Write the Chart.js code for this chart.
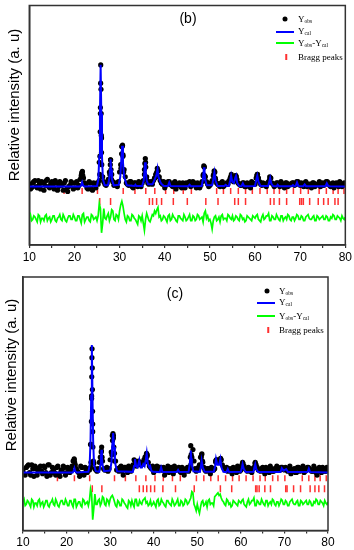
<!DOCTYPE html>
<html><head><meta charset="utf-8">
<script src="https://cdn.jsdelivr.net/npm/chart.js@4.4.1/dist/chart.umd.min.js"></script>
<style>
html,body{margin:0;padding:0;background:#fff;width:354px;height:550px;overflow:hidden;position:relative;font-family:"Liberation Sans",Arial,sans-serif}
.cv{position:absolute;left:0}
.yt{position:absolute;font-size:15px;color:#000;white-space:nowrap;transform:translate(-50%,-50%) rotate(-90deg)}
.pl{position:absolute;font-size:14px;color:#000;transform:translate(-50%,-50%)}
.lg{position:absolute;font-family:"Liberation Serif","Times New Roman",serif;font-size:9px;color:#000;white-space:nowrap;transform:translateY(-50%)}
.lg sub{font-size:5.5px;vertical-align:-1px}
.dot{position:absolute;width:5px;height:5px;border-radius:50%;background:#000;transform:translate(-50%,-50%)}
.ln{position:absolute;height:2px;transform:translateY(-50%)}
.tk{position:absolute;width:1.5px;height:6px;background:#ff3030;transform:translate(-50%,-50%)}
</style></head>
<body>
<div class="cv" style="top:0;width:354px;height:270px"><canvas id="c1" width="354" height="270"></canvas></div>
<div class="cv" style="top:270px;width:354px;height:280px"><canvas id="c2" width="354" height="280"></canvas></div>

<div class="yt" style="left:13px;top:105px">Relative intensity (a. u)</div>
<div class="yt" style="left:10px;top:375px">Relative intensity (a. u)</div>
<div class="pl" style="left:188px;top:18px">(b)</div>
<div class="pl" style="left:175px;top:293px">(c)</div>

<div class="dot" style="left:285px;top:19px"></div>
<div class="lg" style="left:298px;top:19px">Y<sub>obs</sub></div>
<div class="ln" style="left:276px;width:18px;top:32px;background:#0000ff"></div>
<div class="lg" style="left:298px;top:31px">Y<sub>cal</sub></div>
<div class="ln" style="left:276px;width:18px;top:43px;background:#00ff00"></div>
<div class="lg" style="left:298px;top:43px">Y<sub>obs</sub>-Y<sub>cal</sub></div>
<div class="tk" style="left:286px;top:57px"></div>
<div class="lg" style="left:298px;top:57px">Bragg peaks</div>

<div class="dot" style="left:267px;top:291px"></div>
<div class="lg" style="left:279px;top:291px">Y<sub>obs</sub></div>
<div class="ln" style="left:257px;width:18px;top:303px;background:#0000ff"></div>
<div class="lg" style="left:279px;top:302px">Y<sub>cal</sub></div>
<div class="ln" style="left:257px;width:18px;top:316px;background:#00ff00"></div>
<div class="lg" style="left:279px;top:316px">Y<sub>obs</sub>-Y<sub>cal</sub></div>
<div class="tk" style="left:268px;top:330px"></div>
<div class="lg" style="left:279px;top:330px">Bragg peaks</div>

<script>
// ---------- shared grid (2θ, degrees): values at 10, 10.5 ... 80 and half-steps 10.25 ... 79.75 ----------
const xStart = 10, xStep = 0.5;
const xTicks = [10, 20, 30, 40, 50, 60, 70, 80];

// ---------- panel (b) ----------
const ycalB = [10,0, 21.2,0, 21.5,1, 21.7,3.5, 21.9,1, 22.2,0,
  25.0,0.5, 25.3,6, 25.5,25, 25.65,60, 25.8,100, 25.95,60, 26.1,25, 26.3,6, 26.7,1,
  27.4,1, 27.7,6, 27.88,14, 28.0,22.5, 28.12,14, 28.3,6, 28.7,1,
  29.8,1.5, 30.15,8, 30.35,20, 30.55,33.5, 30.75,20, 31.0,8, 31.6,1,
  33.3,0.5, 33.5,1.5, 33.7,0.5,
  35.0,0.5, 35.35,5, 35.5,12, 35.65,20, 35.8,12, 36.0,5, 36.3,2, 37.3,2, 37.8,6, 38.2,10, 38.4,14.4, 38.6,8, 39.0,4, 39.3,2, 39.8,0.5,
  40.7,0.5, 41.0,3.5, 41.3,0.5,
  45.2,0.3, 45.5,1.5, 45.8,0.3,
  48.2,0.5, 48.45,6, 48.58,11, 48.7,15.8, 48.82,11, 48.95,6, 49.3,1, 50.5,1, 50.75,6, 51.0,11.7, 51.25,5, 51.7,0.5,
  53.2,0.5, 53.5,1.5, 53.8,0.5,
  54.2,0.5, 54.5,5, 54.7,9, 54.95,4, 55.3,3, 55.6,7, 55.8,9, 56.05,3, 56.5,0.5,
  57.0,0.3, 57.3,2.7, 57.6,0.3,
  60.0,0.5, 60.3,6, 60.5,9, 60.75,4, 61.2,0.5,
  62.9,0.5, 63.15,4, 63.35,7, 63.6,2.5, 64.0,0.5,
  64.8,0.3, 65.0,1.5, 65.3,0.3,
  68.1,0.3, 68.4,1.2, 68.7,0.3, 69.0,0.5, 69.3,3.5, 69.6,0.5,
  70.7,0.3, 71.0,1.8, 71.3,0.3,
  75.6,0.3, 75.9,2.7, 76.2,0.5, 76.6,0.3, 80,0];
const obsB = [2,-1,4,0,5,-2,3,1,6,-1,
  4,-2,3,0,2,-3,5,-4,1,3,
  -1,4,1,9,7,2,-2,3,-3,1,
  3,20,40,4,1,6,22,4,2,0,
  12,33,14,3,1,4,-1,3,0,2,
  3,14,8,2,3,5,10,13,5,2,
  -1,3,4,1,3,-2,2,0,3,-1,
  2,4,1,3,-1,2,1,9,8,2,
  1,5,12,3,1,3,0,2,2,7,
  5,7,6,2,1,3,0,2,-1,3,
  2,10,4,1,2,0,4,7,2,1,
  3,0,2,-1,3,1,2,3,2,4,
  1,2,3,0,2,-1,3,1,2,0,
  3,2,4,1,2,-1,3,0,2,1,
  2];
const obsBhalf = [-2,3,5,-1,2,4,-3,5,0,3,
  1,5,-3,4,1,3,-2,0,4,-2,
  3,-1,6,12,3,-1,4,-2,3,-1,
  2,60,8,2,3,12,10,1,3,4,
  18,26,8,2,4,0,3,1,4,0,
  5,20,3,4,2,7,12,8,3,4,
  1,4,2,0,4,1,3,-1,2,3,
  3,0,4,1,3,-1,4,16,4,0,
  3,9,6,2,0,4,1,3,5,8,
  4,9,3,1,3,0,3,1,4,2,
  7,7,2,3,1,3,6,3,0,3,
  2,4,1,3,0,2,3,1,4,2,
  3,0,4,2,1,3,0,2,4,1,
  1,4,3,0,3,2,1,4,0,3];
const obsPeakB = [25.5,5, 25.6,10, 25.65,25, 25.7,45, 25.75,65, 25.8,85, 25.82,100, 25.88,80, 25.92,60, 25.95,42, 26.0,28, 26.05,18, 26.15,8,
  27.85,10, 27.95,18, 28.0,22, 28.1,14, 28.2,6,
  30.3,15, 30.45,27, 30.55,33, 30.65,34, 30.75,25, 30.9,12,
  35.5,10, 35.6,19, 35.7,23, 35.8,16, 35.95,6,
  37.8,7, 38.2,11, 38.35,15, 38.5,13, 38.7,8,
  48.55,10, 48.65,17, 48.75,16, 48.85,9,
  50.85,10, 50.95,13, 51.1,12, 51.2,7,
  54.6,8, 54.75,10, 55.7,9, 55.85,8,
  60.4,9, 60.55,10, 60.7,7, 63.25,8, 63.4,7,
  21.6,11, 21.75,12.5, 21.85,9];
const diffB = [-25,-28,-24,-27,-23,-29,-26,-24,-28,-25,
  -27,-24,-29,-25,-27,-23,-28,-26,-24,-27,
  -25,-28,-24,-30,-22,-27,-25,-29,-24,-26,
  -28,-14,-38,-18,-27,-22,-25,-20,-28,-24,
  -20,-12,-22,-29,-25,-28,-24,-27,-31,-25,
  -24,-36,-22,-28,-26,-24,-22,-17,-24,-27,
  -25,-29,-23,-27,-25,-28,-24,-26,-28,-25,
  -27,-23,-28,-25,-27,-24,-26,-29,-20,-24,
  -27,-35,-25,-28,-25,-24,-27,-26,-23,-26,
  -24,-27,-25,-28,-24,-26,-28,-25,-27,-24,
  -26,-23,-28,-25,-27,-24,-22,-28,-25,-27,
  -25,-28,-24,-26,-27,-24,-28,-25,-26,-24,
  -27,-25,-28,-24,-26,-27,-24,-28,-25,-26,
  -24,-27,-25,-28,-26,-24,-27,-25,-28,-26,
  -25];
const diffBhalf = [-23,-27,-25,-29,-24,-26,-28,-23,-26,-29,
  -24,-28,-26,-23,-28,-25,-29,-24,-27,-23,
  -28,-24,-27,-23,-29,-25,-28,-23,-27,-25,
  -24,-18,-30,-26,-24,-28,-19,-27,-23,-27,
  -15,-16,-27,-24,-28,-23,-26,-29,-24,-28,
  -30,-27,-25,-29,-23,-20,-19,-25,-28,-24,
  -27,-24,-28,-23,-26,-29,-24,-27,-23,-28,
  -25,-28,-24,-28,-23,-27,-25,-22,-26,-28,
  -30,-28,-24,-27,-29,-23,-26,-28,-24,-27,
  -28,-24,-27,-23,-27,-29,-24,-26,-28,-25,
  -24,-27,-29,-23,-26,-24,-28,-24,-27,-23,
  -27,-24,-28,-25,-23,-27,-25,-28,-23,-27,
  -24,-28,-25,-23,-27,-25,-28,-24,-27,-25,
  -27,-24,-28,-25,-23,-27,-24,-26,-24,-27];
const braggB1 = [17.7,21.7,25.1,30.8,33.4,35.8,37.8,40.2,42.0,44.1,45.9,51.5,53.0,54.6,56.3,57.9,59.4,61.1,62.7,64.2,65.4,67.0,68.5,70.1,71.8,74.2,75.8,77.3,78.4,79.7];
const braggB2 = [25.6,28.0,36.6,37.3,38.2,39.3,41.9,45.0,49.1,51.8,55.5,56.3,57.9,63.4,64.2,65.4,67.0,69.9,70.3,70.7,72.1,74.0,75.2,76.2,77.7,78.4];

// ---------- panel (c) ----------
const ycalC = [10,0, 21.4,0, 21.6,1, 21.8,3.4, 22.0,1, 22.3,0,
  25.0,0.5, 25.3,6, 25.5,25, 25.65,60, 25.8,100, 25.95,60, 26.1,25, 26.3,6, 26.7,1,
  27.5,0.5, 27.75,6, 27.88,11, 28.0,17.8, 28.12,11, 28.25,6, 28.6,1,
  30.0,1.5, 30.3,8, 30.5,22, 30.7,31, 30.9,20, 31.1,8, 31.6,1,
  35.2,0.5, 35.5,5, 35.7,10.6, 35.95,5, 36.3,4, 36.7,9.8, 37.0,4, 37.3,4, 37.6,6.6, 37.9,5, 38.2,10, 38.4,15, 38.65,7, 39.0,4, 39.2,5, 39.5,1, 39.9,0.5,
  41.4,0.3, 41.7,4, 42.0,0.3,
  45.3,0.3, 45.6,2, 45.9,0.3,
  48.0,0.5, 48.25,6, 48.38,11, 48.5,17.2, 48.62,11, 48.75,6, 49.1,1,
  50.6,0.5, 50.85,5, 51.0,9.3, 51.25,4, 51.7,0.5,
  53.8,0.5, 54.1,5, 54.3,10.6, 54.6,6, 55.0,6, 55.3,10.6, 55.55,4, 56.0,0.5,
  56.7,0.3, 57.0,2.7, 57.3,0.3,
  60.0,0.5, 60.25,4, 60.4,6.6, 60.65,3, 61.1,0.3,
  62.9,0.5, 63.1,4, 63.3,6.6, 63.55,2.5, 64.0,0.3,
  69.1,0.3, 69.4,3.4, 69.8,1.5, 70.4,2.7, 70.8,0.3,
  75.3,0.3, 75.6,3, 75.9,0.3, 80,0];
const obsC = [2,-2,5,0,6,-3,3,1,5,-1,
  4,-3,6,0,2,-2,5,-3,1,4,
  0,3,2,9,6,1,-3,4,-2,2,
  3,22,38,3,1,8,17,3,2,1,
  10,29,15,2,1,5,-2,4,0,3,
  3,10,5,9,6,8,12,14,5,3,
  0,4,3,4,2,-2,3,0,4,-1,
  2,3,1,4,-2,2,1,6,18,3,
  2,6,14,4,1,3,-1,2,3,10,
  8,10,4,2,1,3,-1,2,0,4,
  2,7,3,1,3,0,4,6,2,1,
  4,-1,3,0,3,1,2,4,2,4,
  2,3,3,-1,2,0,4,1,2,0,
  3,4,2,1,3,-2,4,0,3,1,
  3];
const obsChalf = [-1,4,6,-2,3,5,-2,4,1,5,
  0,6,-2,4,0,4,-1,2,5,-2,
  4,0,5,10,3,0,5,-1,4,0,
  2,60,7,2,3,12,9,2,4,3,
  16,27,9,3,4,1,4,2,5,1,
  6,9,7,8,6,10,13,8,4,5,
  2,5,4,2,4,1,5,2,3,5,
  3,4,0,3,1,4,3,12,9,1,
  4,12,8,2,3,1,4,2,8,9,
  10,6,3,4,2,1,4,2,5,1,
  6,5,2,4,1,3,7,4,2,3,
  1,4,2,5,1,3,5,2,4,3,
  4,1,5,2,3,0,4,2,5,1,
  4,3,1,5,0,3,2,4,1,4];
const obsPeakC = [25.5,4, 25.6,8, 25.65,22, 25.7,40, 25.75,58, 25.78,75, 25.82,90, 25.85,97, 25.9,82, 25.93,65, 25.97,48, 26.0,32, 26.05,20, 26.15,9,
  27.85,9, 27.95,16, 28.05,20, 28.15,12,
  30.4,14, 30.55,25, 30.65,30.5, 30.75,29, 30.85,20, 31.0,9,
  38.25,11, 38.35,15, 38.5,13,
  48.4,12, 48.5,21, 48.6,14,
  50.9,12, 51.05,14.6, 51.2,9,
  54.2,9, 54.35,10, 55.2,10, 55.35,11,
  21.75,10.6, 21.85,8, 60.4,8, 63.3,8];
const diffC = [-23,-26,-22,-25,-21,-27,-24,-22,-26,-23,
  -25,-22,-27,-23,-25,-21,-26,-24,-22,-25,
  -23,-26,-22,-27,-21,-25,-23,-27,-22,-24,
  -26,-13,-37,-17,-25,-21,-24,-20,-26,-22,
  -21,-18,-23,-27,-23,-26,-22,-25,-28,-23,
  -22,-27,-21,-26,-24,-22,-20,-23,-25,-26,
  -23,-27,-21,-25,-23,-26,-22,-24,-26,-23,
  -25,-21,-26,-23,-25,-22,-24,-20,-16,-27,
  -25,-32,-23,-26,-23,-22,-25,-24,-19,-17,
  -18,-20,-23,-26,-22,-24,-26,-23,-25,-22,
  -24,-21,-26,-23,-25,-22,-20,-26,-23,-25,
  -23,-26,-22,-24,-25,-22,-26,-23,-24,-22,
  -25,-23,-26,-22,-24,-25,-22,-26,-23,-24,
  -22,-25,-23,-26,-24,-22,-25,-23,-26,-24,
  -23];
const diffChalf = [-21,-25,-23,-27,-22,-24,-26,-21,-24,-27,
  -22,-26,-24,-21,-26,-23,-27,-22,-25,-21,
  -26,-22,-25,-21,-27,-23,-26,-21,-25,-23,
  -22,-17,-28,-25,-22,-26,-19,-25,-21,-25,
  -19,-20,-26,-22,-26,-21,-24,-27,-22,-26,
  -25,-21,-26,-22,-25,-21,-24,-26,-22,-25,
  -25,-22,-26,-21,-24,-27,-22,-25,-21,-26,
  -23,-26,-22,-26,-21,-25,-22,-15,-25,-30,
  -29,-27,-22,-25,-27,-21,-24,-26,-18,-16,
  -17,-22,-25,-21,-25,-27,-22,-24,-26,-23,
  -22,-25,-27,-21,-24,-22,-26,-22,-25,-21,
  -25,-22,-26,-23,-21,-25,-23,-26,-21,-25,
  -22,-26,-23,-21,-25,-23,-26,-22,-25,-23,
  -25,-22,-26,-23,-21,-25,-22,-24,-22,-25];
const braggC1 = [17.9,21.8,25.3,31.0,33.5,35.9,38.2,40.3,42.2,44.3,46.1,49.8,51.5,53.1,54.8,56.5,58.1,59.6,61.2,62.8,64.4,65.6,67.3,68.5,70.1,74.1,75.6,77.0,78.2,79.6];
const braggC2 = [25.9,28.1,36.7,37.6,38.4,39.3,40.2,42.1,45.0,49.3,55.3,57.9,63.4,63.7,64.2,65.5,66.8,70.3,70.6,72.1,73.7,75.9,77.0,77.9,79.2];

// ---------- helpers ----------
const interleave = (full, half) => {
  const out = [];
  full.forEach((v, i) => {
    out.push({x: xStart + i * xStep, y: v});
    if (i < half.length) out.push({x: xStart + (i + 0.5) * xStep, y: half[i]});
  });
  return out;
};
const pairs = a => { const o = []; for (let i = 0; i < a.length; i += 2) o.push({x: a[i], y: a[i + 1]}); return o; };
const row = (xs, y) => xs.map(x => ({x, y}));

const framePlugin = {
  id: 'frame',
  afterDraw(chart) {
    const {ctx, chartArea: a} = chart;
    ctx.save(); ctx.strokeStyle = '#333'; ctx.lineWidth = 1.5;
    ctx.strokeRect(a.left, a.top, a.right - a.left, a.bottom - a.top);
    ctx.restore();
  }
};

function makeChart(id, cfg) {
  const ds = [
    {label: 'Ycal', data: pairs(cfg.ycal), showLine: true, borderColor: '#0000ff', borderWidth: 2, pointRadius: 0, tension: 0},
    {label: 'Yobs', data: interleave(cfg.obs, cfg.obsHalf).concat(pairs(cfg.obsPeak)), showLine: false, pointRadius: 2.6, pointBorderWidth: 0, backgroundColor: '#000', borderColor: '#000'},
    {label: 'Yobs-Ycal', data: interleave(cfg.diff, cfg.diffHalf), showLine: true, borderColor: '#00ff00', borderWidth: 1.7, pointRadius: 0, tension: 0},
    {label: 'Bragg1', data: row(cfg.b1, cfg.r1), showLine: false, pointStyle: 'line', rotation: 90, pointRadius: 3, borderColor: '#ff3030', pointBorderWidth: 1.5},
    {label: 'Bragg2', data: row(cfg.b2, cfg.r2), showLine: false, pointStyle: 'line', rotation: 90, pointRadius: 3.5, borderColor: '#ff3030', pointBorderWidth: 1.5}
  ];
  return new Chart(document.getElementById(id), {
    type: 'scatter',
    data: {datasets: ds},
    plugins: [framePlugin],
    options: {
      responsive: false, animation: false, devicePixelRatio: 1,
      layout: {padding: {top: cfg.padTop, right: cfg.padRight, left: 0, bottom: 0}},
      plugins: {legend: {display: false}, tooltip: {enabled: false}},
      scales: {
        x: {type: 'linear', min: 10, max: 80,
          afterBuildTicks: s => { s.ticks = [10,15,20,25,30,35,40,45,50,55,60,65,70,75,80].map(v => ({value: v})); },
          ticks: {autoSkip: false, maxRotation: 0, padding: 2, color: '#000', font: {family: '"Liberation Sans", Arial', size: 12},
            callback: v => xTicks.includes(v) ? String(v) : ''},
          grid: {drawOnChartArea: false, drawTicks: true, tickLength: 3, color: '#333', lineWidth: 1.2},
          border: {color: '#333', width: 1.5},
          afterFit: s => { s.height = cfg.xH; }
        },
        y: {type: 'linear', min: cfg.yMin, max: cfg.yMax,
          ticks: {display: false}, grid: {display: false},
          border: {color: '#333', width: 1.5},
          afterFit: s => { s.width = cfg.yW; }
        }
      }
    }
  });
}

makeChart('c1', {ycal: ycalB, obs: obsB, obsHalf: obsBhalf, obsPeak: obsPeakB, diff: diffB, diffHalf: diffBhalf, b1: braggB1, b2: braggB2, r1: -3.7, r2: -12.2,
  yMin: -48, yMax: 148.8, padTop: 3, padRight: 8.5, xH: 25, yW: 29.3});
makeChart('c2', {ycal: ycalC, obs: obsC, obsHalf: obsChalf, obsPeak: obsPeakC, diff: diffC, diffHalf: diffChalf, b1: braggC1, b2: braggC2, r1: -4.5, r2: -12.7,
  yMin: -45.5, yMax: 153.3, padTop: 7, padRight: 26, xH: 19.5, yW: 23});
</script>
</body></html>
